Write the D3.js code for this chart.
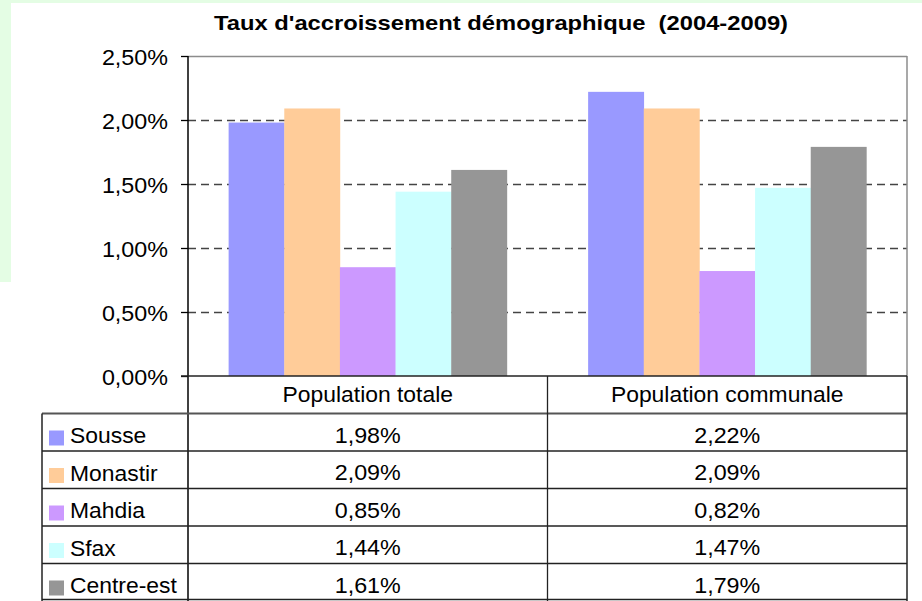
<!DOCTYPE html>
<html>
<head>
<meta charset="utf-8">
<script src="https://cdn.jsdelivr.net/npm/d3@7"></script>
<style>
  body { margin: 0; background: #fff; }
  text { font-family: "Liberation Sans", Arial, sans-serif; fill: #000; }
</style>
</head>
<body>
<svg id="chart" width="922" height="601"></svg>
<script>
"use strict";

// données
var groups = ["Population totale", "Population communale"];
var regions = ["Sousse", "Monastir", "Mahdia", "Sfax", "Centre-est"];
var popTotale = [0.0198, 0.0209, 0.0085, 0.0144, 0.0161];
var popCommunale = [0.0222, 0.0209, 0.0082, 0.0147, 0.0179];
var colors = ["#9999ff", "#ffcc99", "#cc99ff", "#ccffff", "#969696"];
var yTicks = [0, 0.005, 0.01, 0.015, 0.02, 0.025];
var title = "Taux d'accroissement démographique  (2004-2009)";

var series = [popTotale, popCommunale];

var fr = d3.formatLocale({ decimal: ",", thousands: " ", grouping: [3], currency: ["", " €"] });
var pct = fr.format(".2%");

var svg = d3.select("#chart");

// fond vert derrière le graphique
svg.append("rect").attr("x", 0).attr("y", 0).attr("width", 922).attr("height", 3).attr("fill", "#e4fde4");
svg.append("rect").attr("x", 0).attr("y", 0).attr("width", 11).attr("height", 282).attr("fill", "#e4fde4");

var plotLeft = 188, plotRight = 907, plotTop = 56, plotBottom = 376;
var rowH = 37.5;

var x0 = d3.scaleBand().domain(groups).range([plotLeft, plotRight]).paddingInner(0).paddingOuter(0);
var x1 = d3.scaleBand().domain(regions).range([0, x0.bandwidth()]).paddingInner(0).paddingOuter(0.73);
var y = d3.scaleLinear().domain([0, 0.025]).range([plotBottom, plotTop]);

// texte étiré horizontalement comme dans l'original
function stretch(sel, x, yy, sx) {
  sel.attr("transform", "translate(" + x + "," + yy + ") scale(" + sx + ",1)");
  return sel;
}

// titre
svg.append("text")
  .attr("x", 501).attr("y", 30)
  .attr("text-anchor", "middle")
  .attr("font-weight", "bold")
  .attr("font-size", 21)
  .attr("textLength", 574)
  .attr("lengthAdjust", "spacingAndGlyphs")
  .style("white-space", "pre")
  .text(title);

// quadrillage
svg.append("g")
  .selectAll("line")
  .data(yTicks.filter(function(d) { return d > 0 && d < 0.025; }))
  .join("line")
  .attr("x1", plotLeft).attr("x2", plotRight)
  .attr("y1", function(d) { return y(d) + 0.5; })
  .attr("y2", function(d) { return y(d) + 0.5; })
  .attr("stroke", "#444")
  .attr("stroke-width", 1.3)
  .attr("stroke-dasharray", "8,5");

// cadre de la zone de tracé
svg.append("line").attr("x1", plotLeft).attr("x2", plotRight).attr("y1", plotTop + 0.5).attr("y2", plotTop + 0.5)
  .attr("stroke", "#8c8c8c").attr("stroke-width", 1.5);
svg.append("line").attr("x1", plotRight).attr("x2", plotRight).attr("y1", plotTop).attr("y2", plotBottom)
  .attr("stroke", "#8c8c8c").attr("stroke-width", 1.5);

// barres
var gBars = svg.append("g");
groups.forEach(function(g, gi) {
  gBars.append("g")
    .attr("transform", "translate(" + x0(g) + ",0)")
    .selectAll("rect")
    .data(regions.map(function(r, ri) { return { region: r, value: series[gi][ri], color: colors[ri] }; }))
    .join("rect")
    .attr("x", function(d) { return x1(d.region); })
    .attr("width", x1.bandwidth() + 0.3)
    .attr("y", function(d) { return y(d.value); })
    .attr("height", function(d) { return plotBottom - y(d.value); })
    .attr("fill", function(d) { return d.color; });
});

// axe des y
var yAxis = d3.axisLeft(y).tickValues(yTicks).tickSize(7).tickFormat(pct);
var gy = svg.append("g").attr("transform", "translate(" + plotLeft + ",0)").call(yAxis);
gy.select(".domain").remove();
gy.selectAll(".tick line").attr("stroke", "#000").attr("stroke-width", 1.3);
gy.selectAll(".tick text").each(function(d) {
  var t = d3.select(this);
  t.attr("x", null).attr("dy", null).attr("font-size", 22).attr("font-family", null)
    .attr("text-anchor", "end");
  // la graduation est dans un <g> translaté en y
  stretch(t, -20, 8, 1.06);
});
gy.attr("font-family", null).attr("font-size", null);
svg.append("line").attr("x1", plotLeft).attr("x2", plotLeft).attr("y1", plotTop).attr("y2", 601)
  .attr("stroke", "#000").attr("stroke-width", 1.5);

// tableau de données
var tableLeft = 42;
var tg = svg.append("g");
var lineColor = "#222";

// lignes horizontales
tg.append("line").attr("x1", plotLeft - 7).attr("x2", plotRight).attr("y1", plotBottom).attr("y2", plotBottom)
  .attr("stroke", lineColor).attr("stroke-width", 1.3);
regions.forEach(function(r, i) {
  var yy = plotBottom + rowH * (i + 1);
  tg.append("line").attr("x1", tableLeft).attr("x2", plotRight).attr("y1", yy).attr("y2", yy)
    .attr("stroke", i === 0 ? "#555" : lineColor).attr("stroke-width", i === 0 ? 1.8 : 1.3);
});
// lignes verticales
tg.append("line").attr("x1", tableLeft).attr("x2", tableLeft).attr("y1", plotBottom + rowH).attr("y2", 601)
  .attr("stroke", lineColor).attr("stroke-width", 1.5);
tg.append("line").attr("x1", x0(groups[1])).attr("x2", x0(groups[1])).attr("y1", plotBottom).attr("y2", 601)
  .attr("stroke", lineColor).attr("stroke-width", 1.3);
tg.append("line").attr("x1", plotRight).attr("x2", plotRight).attr("y1", plotBottom).attr("y2", 601)
  .attr("stroke", lineColor).attr("stroke-width", 1.5);
tg.append("line").attr("x1", tableLeft).attr("x2", plotRight).attr("y1", 599.5).attr("y2", 599.5)
  .attr("stroke", lineColor).attr("stroke-width", 1.3);

// en-têtes des colonnes
groups.forEach(function(g) {
  var t = tg.append("text").attr("font-size", 22).attr("text-anchor", "middle").text(g);
  stretch(t, x0(g) + x0.bandwidth() / 2, plotBottom + 26, 1.04);
});

// lignes de légende + valeurs
regions.forEach(function(r, i) {
  var rowTop = plotBottom + rowH * (i + 1);
  tg.append("rect")
    .attr("x", 49).attr("y", rowTop + 17)
    .attr("width", 15).attr("height", 15)
    .attr("fill", colors[i]);
  var lt = tg.append("text").attr("font-size", 22).text(r);
  stretch(lt, 70, rowTop + 29.5, 1.04);
  groups.forEach(function(g, gi) {
    var vt = tg.append("text").attr("font-size", 22).attr("text-anchor", "middle")
      .text(pct(series[gi][i]));
    stretch(vt, x0(g) + x0.bandwidth() / 2, rowTop + 29, 1.06);
  });
});
</script>
</body>
</html>
